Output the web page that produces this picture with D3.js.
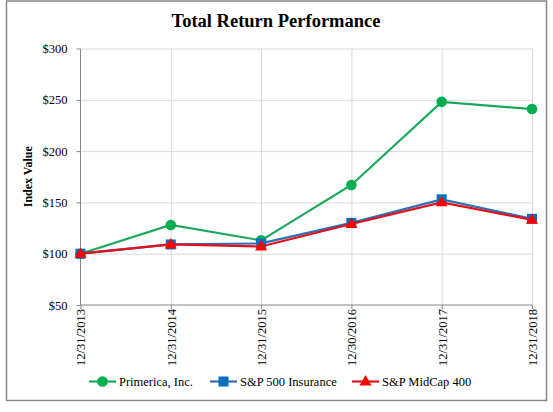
<!DOCTYPE html>
<html>
<head>
<meta charset="utf-8">
<script src="https://cdn.jsdelivr.net/npm/d3@7"></script>
<style>
  body { margin: 0; background: #fff; }
  .grid line { stroke: #d9d9d9; stroke-width: 1; }
  .grid .domain { display: none; }
</style>
</head>
<body>
<div id="chart"></div>
<script>
// chart data
const dates = ["12/31/2013", "12/31/2014", "12/31/2015", "12/30/2016", "12/31/2017", "12/31/2018"];
const primerica = [100, 128, 113, 167, 248, 241];
const sp500Insurance = [100, 109, 110, 130, 153, 134];
const spMidCap400 = [100, 109, 107, 129, 150, 133];
const yTicks = [50, 100, 150, 200, 250, 300];

const FONT = '"Liberation Serif", "Times New Roman", serif';

const series = [
    {name: "Primerica, Inc.", values: primerica, color: "#00b050", line: "#1aa85a", marker: "circle"},
    {name: "S&P 500 Insurance", values: sp500Insurance, color: "#0070c0", line: "#2f6fb0", marker: "square"},
    {name: "S&P MidCap 400", values: spMidCap400, color: "#ff0000", line: "#e0101e", marker: "triangle"}
];

const width = 553, height = 412;
const margin = {top: 48.5, right: 21, bottom: 107, left: 80.5};

const svg = d3.select("#chart")
    .append("svg")
    .attr("width", width)
    .attr("height", height)
    .attr("font-family", FONT);

// outer frame
svg.append("rect")
    .attr("x", 6.5).attr("y", 1)
    .attr("width", 540).attr("height", 399.5)
    .attr("fill", "#fff")
    .attr("stroke", "#878787")
    .attr("stroke-width", 1.5);

const xScale = d3.scalePoint()
    .domain(dates)
    .range([margin.left, width - margin.right]);

const yScale = d3.scaleLinear()
    .domain([50, 300])
    .range([height - margin.bottom, margin.top]);

// gridlines
svg.append("g")
    .attr("class", "grid")
    .attr("transform", `translate(${margin.left},0)`)
    .call(d3.axisLeft(yScale).tickValues(yTicks.slice(1)).tickSize(-(width - margin.right - margin.left)).tickFormat(""));

svg.append("g")
    .attr("class", "grid")
    .attr("transform", `translate(0,${margin.top})`)
    .call(d3.axisBottom(xScale).tickValues(dates.slice(1)).tickSize(height - margin.bottom - margin.top).tickFormat(""));

// y axis
const yAxis = svg.append("g")
    .attr("transform", `translate(${margin.left},0)`)
    .call(d3.axisLeft(yScale)
        .tickValues(yTicks)
        .tickSize(4)
        .tickPadding(9)
        .tickFormat(d => "$" + d));
yAxis.attr("font-family", FONT).attr("font-size", 12.5);
yAxis.selectAll("line, path").attr("stroke", "#868686");
yAxis.select(".domain").attr("d", `M0,${yScale(50)}V${yScale(300)}`);
yAxis.selectAll("text").attr("fill", "#000");

// x axis
const xAxis = svg.append("g")
    .attr("transform", `translate(0,${yScale(50)})`)
    .call(d3.axisBottom(xScale).tickSize(4).tickSizeOuter(0));
xAxis.attr("font-family", FONT).attr("font-size", 12.5);
xAxis.selectAll("line, path").attr("stroke", "#868686");
xAxis.select(".domain").attr("d", `M${margin.left},0H${width - margin.right}`);
xAxis.selectAll("text")
    .attr("fill", "#000")
    .attr("text-anchor", "end")
    .attr("transform", "rotate(-90)")
    .attr("x", -4)
    .attr("y", 0)
    .attr("dy", "0.35em");

// titles
svg.append("text")
    .attr("x", 276)
    .attr("y", 27)
    .attr("text-anchor", "middle")
    .attr("font-size", 18.5)
    .attr("font-weight", "bold")
    .text("Total Return Performance");

svg.append("text")
    .attr("transform", `translate(32,${yScale(175)}) rotate(-90)`)
    .attr("text-anchor", "middle")
    .attr("font-size", 12)
    .attr("font-weight", "bold")
    .text("Index Value");

function drawMarker(g, type, x, y, color) {
    if (type == "circle") {
        g.append("circle").attr("cx", x).attr("cy", y).attr("r", 5.3).attr("fill", color);
    } else if (type == "square") {
        g.append("rect").attr("x", x - 5).attr("y", y - 5).attr("width", 10).attr("height", 10).attr("fill", color);
    } else {
        g.append("path")
            .attr("d", d3.symbol().type(d3.symbolTriangle).size(62)())
            .attr("transform", `translate(${x},${y + 0.5})`)
            .attr("fill", color);
    }
}

const line = d3.line()
    .x((d, i) => xScale(dates[i]))
    .y(d => yScale(d));

series.forEach(s => {
    const g = svg.append("g");
    g.append("path")
        .attr("d", line(s.values))
        .attr("fill", "none")
        .attr("stroke", s.line)
        .attr("stroke-width", 2.2);
    s.values.forEach((v, i) => drawMarker(g, s.marker, xScale(dates[i]), yScale(v), s.color));
});

// legend
const legendX = [89, 210, 352];
series.forEach((s, i) => {
    const g = svg.append("g").attr("transform", `translate(${legendX[i]},381.5)`);
    g.append("line").attr("x1", 0).attr("x2", 27).attr("stroke", s.line).attr("stroke-width", 2.2);
    drawMarker(g, s.marker, 13.5, 0, s.color);
    g.append("text")
        .attr("x", 30)
        .attr("dy", "0.35em")
        .attr("font-size", 12.5)
        .text(s.name);
});
</script>
</body>
</html>
